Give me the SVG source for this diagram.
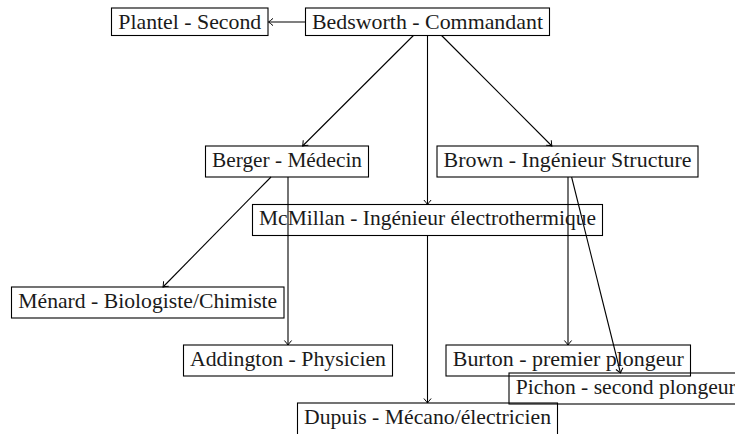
<svg xmlns="http://www.w3.org/2000/svg" width="735" height="434" viewBox="0 0 735 434">
<style>
.box{fill:none;stroke:#000;stroke-width:1.1}
.lbl{font-family:"Liberation Serif","Times New Roman",Times,"Nimbus Roman","FreeSerif","Noto Serif","DejaVu Serif",serif;font-size:21px;fill:#1a1a1a;text-anchor:middle}
.edge{fill:none;stroke:#000;stroke-width:1.1;marker-end:url(#arr)}
</style>
<defs>
<marker id="arr" viewBox="-6 -5 8 10" markerWidth="8" markerHeight="10" refX="0" refY="0" orient="auto" markerUnits="userSpaceOnUse">
<path d="M-4.5,-3.6 Q-1.5,-1 0,0 Q-1.5,1 -4.5,3.6" fill="none" stroke="#000" stroke-width="1"/>
</marker>
</defs>
<rect width="735" height="434" fill="#fff"/>
<g id="connectors">
<line class="edge" x1="305.5" y1="22" x2="268.5" y2="22"/>
<line class="edge" x1="413.4" y1="35.5" x2="302.6" y2="146"/>
<line class="edge" x1="441.6" y1="35.5" x2="551.9" y2="146"/>
<line class="edge" x1="427.5" y1="35.5" x2="427.5" y2="204.5"/>
<line class="edge" x1="271" y1="177" x2="163" y2="287"/>
<line class="edge" x1="288" y1="177" x2="288" y2="345"/>
<line class="edge" x1="568" y1="177" x2="568" y2="345"/>
<line class="edge" x1="571.6" y1="177" x2="620.5" y2="373"/>
<line class="edge" x1="427.5" y1="235.5" x2="427.5" y2="403"/>
</g>
<g id="plantel"><rect class="box" x="111.5" y="8" width="156.5" height="27.5"/><text class="lbl" x="189.75" y="28.5" textLength="143" lengthAdjust="spacingAndGlyphs">Plantel - Second</text></g>
<g id="bedsworth"><rect class="box" x="305.5" y="8" width="244" height="27.5"/><text class="lbl" x="427.5" y="28.5" textLength="231" lengthAdjust="spacingAndGlyphs">Bedsworth - Commandant</text></g>
<g id="berger"><rect class="box" x="205.5" y="146" width="163" height="31"/><text class="lbl" x="287" y="166.5" textLength="150" lengthAdjust="spacingAndGlyphs">Berger - Médecin</text></g>
<g id="brown"><rect class="box" x="437" y="146" width="261" height="31"/><text class="lbl" x="567.5" y="166.5" textLength="248" lengthAdjust="spacingAndGlyphs">Brown - Ingénieur Structure</text></g>
<g id="mcmillan"><rect class="box" x="252.5" y="204.5" width="350" height="31"/><text class="lbl" x="427.5" y="225" textLength="337" lengthAdjust="spacingAndGlyphs">McMillan - Ingénieur électrothermique</text></g>
<g id="menard"><rect class="box" x="11.5" y="287" width="272.5" height="31"/><text class="lbl" x="147.75" y="307.5" textLength="259" lengthAdjust="spacingAndGlyphs">Ménard - Biologiste/Chimiste</text></g>
<g id="addington"><rect class="box" x="183.5" y="345" width="209" height="31"/><text class="lbl" x="288" y="365.5" textLength="196" lengthAdjust="spacingAndGlyphs">Addington - Physicien</text></g>
<g id="burton"><rect class="box" x="446" y="345" width="244.5" height="31"/><text class="lbl" x="568.25" y="365.5" textLength="231" lengthAdjust="spacingAndGlyphs">Burton - premier plongeur</text></g>
<g id="pichon"><rect class="box" x="509" y="373" width="233.5" height="31"/><text class="lbl" x="625.75" y="393.5" textLength="220" lengthAdjust="spacingAndGlyphs">Pichon - second plongeur</text></g>
<g id="dupuis"><rect class="box" x="297.5" y="403" width="260" height="34"/><text class="lbl" x="427.5" y="423.5" textLength="247" lengthAdjust="spacingAndGlyphs">Dupuis - Mécano/électricien</text></g>
</svg>
